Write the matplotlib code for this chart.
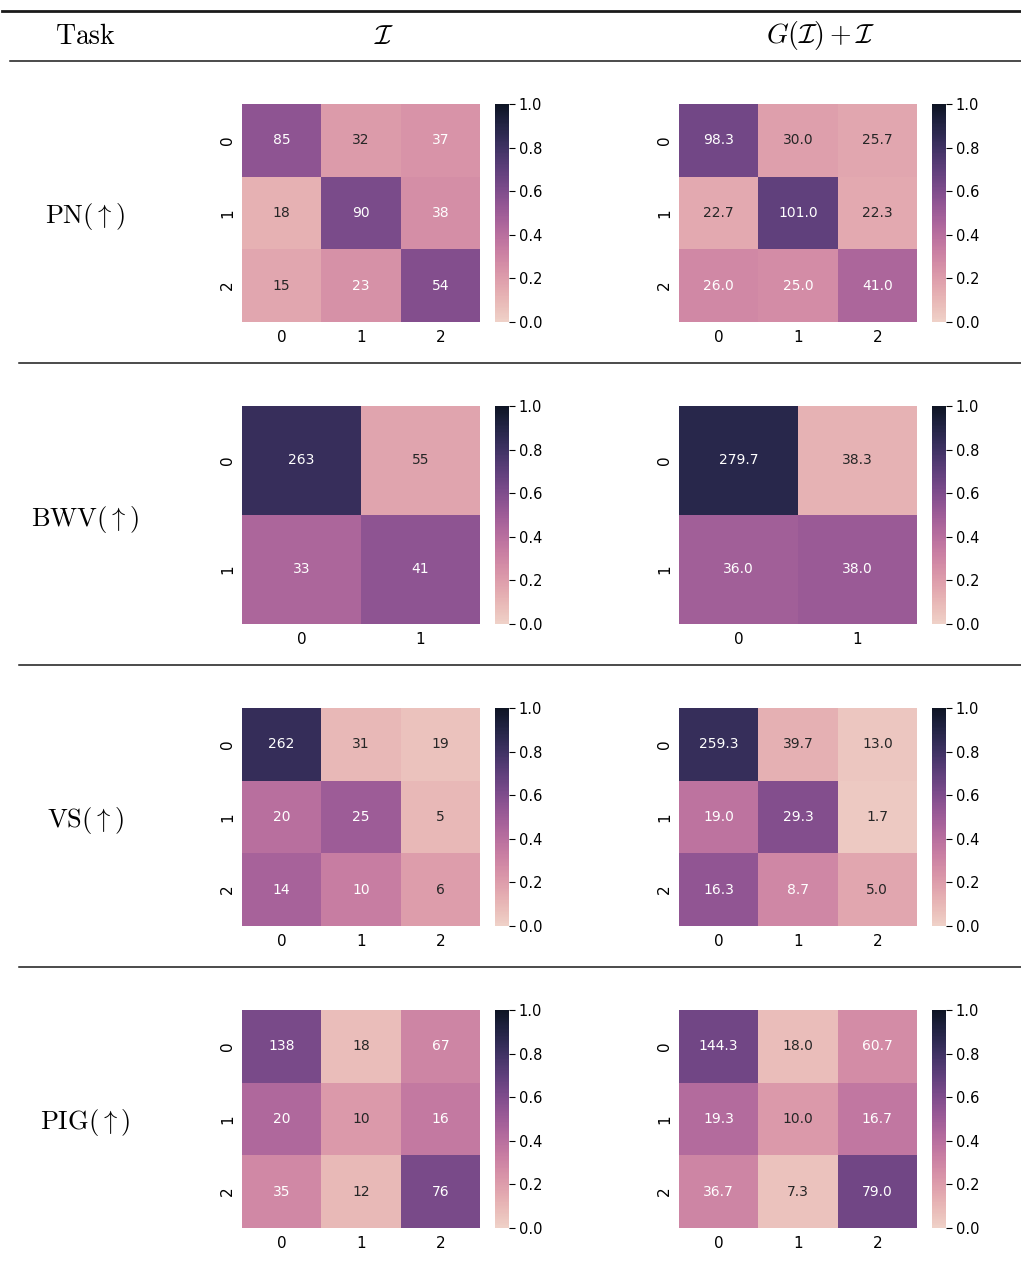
import numpy as np
import matplotlib
matplotlib.use("Agg")
import matplotlib.pyplot as plt
from matplotlib.lines import Line2D
import seaborn as sns

plt.rcParams['mathtext.fontset'] = 'cm'
plt.rcParams['font.family'] = ['DejaVu Sans']

# Данные: количества для каждой задачи, два столбца таблицы
tasks = ['PN', 'BWV', 'VS', 'PIG']
col_titles = [r'$\mathcal{I}$', r'$G(\mathcal{I})+\mathcal{I}$']

pn_base = [[85, 32, 37], [18, 90, 38], [15, 23, 54]]
pn_gen = [[98.3, 30.0, 25.7], [22.7, 101.0, 22.3], [26.0, 25.0, 41.0]]
bwv_base = [[263, 55], [33, 41]]
bwv_gen = [[279.7, 38.3], [36.0, 38.0]]
vs_base = [[262, 31, 19], [20, 25, 5], [14, 10, 6]]
vs_gen = [[259.3, 39.7, 13.0], [19.0, 29.3, 1.7], [16.3, 8.7, 5.0]]
pig_base = [[138, 18, 67], [20, 10, 16], [35, 12, 76]]
pig_gen = [[144.3, 18.0, 60.7], [19.3, 10.0, 16.7], [36.7, 7.3, 79.0]]

rows = [(pn_base, pn_gen), (bwv_base, bwv_gen),
        (vs_base, vs_gen), (pig_base, pig_gen)]

W, H = 1021, 1262
fig = plt.figure(figsize=(W / 100, H / 100), dpi=100)
cmap = sns.cubehelix_palette(start=-0.27, rot=0.52, light=0.85, dark=0.08,
                             hue=0.9, as_cmap=True)


def box(x0, y0, x1, y1):
    # пиксели -> доли фигуры
    return [x0 / W, 1 - y1 / H, (x1 - x0) / W, (y1 - y0) / H]


# Линии таблицы
def hline(y, x0, x1, lw):
    fig.add_artist(Line2D([x0 / W, x1 / W], [1 - y / H, 1 - y / H],
                          color='#1a1a1a', lw=lw))


hline(10.5, 2, W, 2.0)
hline(61, 10, W, 1.1)
for y in [363, 665, 967]:
    hline(y, 19, W, 1.1)

# Заголовок
fig.text(86 / W, 1 - 36 / H, r'$\mathrm{Task}$', ha='center', va='center',
         fontsize=20)
fig.text(384 / W, 1 - 36 / H, col_titles[0], ha='center', va='center',
         fontsize=20)
fig.text(821 / W, 1 - 36 / H, col_titles[1], ha='center', va='center',
         fontsize=20)

tops = [104, 406, 708, 1010]
for r, (task, pair) in enumerate(zip(tasks, rows)):
    top = tops[r]
    fig.text(85 / W, 1 - (top + 113) / H, r'$\mathrm{%s}(\uparrow)$' % task,
             ha='center', va='center', fontsize=19)
    for c, data in enumerate(pair):
        arr = np.array(data, dtype=float)
        norm = arr / arr.sum(axis=1, keepdims=True)
        if c == 0:
            labels = np.array([[f'{int(v)}' for v in row] for row in data])
            x0 = 242
        else:
            labels = np.array([[f'{v:.1f}' for v in row] for row in data])
            x0 = 679
        ax = fig.add_axes(box(x0, top, x0 + 238, top + 218))
        cax = fig.add_axes(box(x0 + 253, top, x0 + 267, top + 218))
        sns.heatmap(norm, ax=ax, cbar_ax=cax, cmap=cmap, vmin=0, vmax=1,
                    annot=labels, fmt='', annot_kws={'fontsize': 10})
        ax.tick_params(axis='x', length=0, labelsize=11, pad=6)
        ax.tick_params(axis='y', length=0, labelsize=11, pad=5)
        cax.tick_params(labelsize=10.5, length=4, pad=3)
        cax.set_yticks([0, 0.2, 0.4, 0.6, 0.8, 1.0])

fig.savefig('out.png', dpi=100)
